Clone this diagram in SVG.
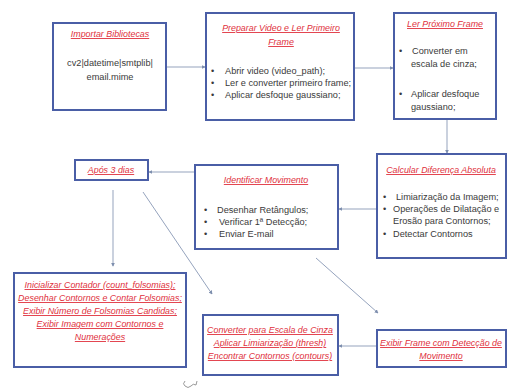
<svg xmlns="http://www.w3.org/2000/svg" width="517" height="392" viewBox="0 0 517 392">
<defs>
<style>
.box{fill:#fff;stroke:#4a5ea6;stroke-width:2}
.t{font-family:"Liberation Sans",Arial,sans-serif;font-size:8.9px;fill:#e0303c;font-style:italic;text-decoration:underline}
.b{font-family:"Liberation Sans",Arial,sans-serif;font-size:9.2px;fill:#3a3a3a}
.c{text-anchor:middle}
.ln{stroke:#95a3bd;stroke-width:1;fill:none;marker-end:url(#ah)}
</style>
<marker id="ah" viewBox="0 0 6 6" refX="5" refY="3" markerWidth="4" markerHeight="4" orient="auto">
<path d="M0,0 L6,3 L0,6 z" fill="#7e8fae"/>
</marker>
</defs>
<rect width="517" height="392" fill="#fff"/>
<g id="connectors">
<line class="ln" x1="166" y1="67" x2="205" y2="67"/>
<line class="ln" x1="354" y1="68" x2="393" y2="68"/>
<line class="ln" x1="447" y1="119" x2="447" y2="153"/>
<line class="ln" x1="377" y1="209" x2="339" y2="209"/>
<line class="ln" x1="195" y1="172" x2="149" y2="172"/>
<line class="ln" x1="113" y1="190" x2="113" y2="266"/>
<line class="ln" x1="143" y1="192" x2="212" y2="294"/>
<line class="ln" x1="316" y1="258" x2="378" y2="313"/>
<line class="ln" x1="377" y1="346" x2="339" y2="346"/>
</g>
<g id="n1">
<rect class="box" x="53" y="23" width="113" height="87"/>
<text class="t c" x="110" y="37">Importar Bibliotecas</text>
<text class="b c" x="110" y="66">cv2|datetime|smtplib|</text>
<text class="b c" x="110" y="80">email.mime</text>
</g>
<g id="n2">
<rect class="box" x="206" y="13" width="148" height="107"/>
<text class="t c" x="281" y="31">Preparar Video e Ler Primeiro</text>
<text class="t c" x="281" y="45">Frame</text>
<text class="b" x="211" y="74">•</text><text class="b" x="225" y="74">Abrir video (video_path);</text>
<text class="b" x="211" y="86">•</text><text class="b" x="225" y="86">Ler e converter primeiro frame;</text>
<text class="b" x="211" y="98">•</text><text class="b" x="225" y="98">Aplicar desfoque gaussiano;</text>
</g>
<g id="n3">
<rect class="box" x="394" y="13" width="102" height="106"/>
<text class="t c" x="445" y="27">Ler Próximo Frame</text>
<text class="b" x="399" y="54">•</text><text class="b" x="412" y="54">Converter em</text>
<text class="b" x="411" y="67">escala de cinza;</text>
<text class="b" x="399" y="97">•</text><text class="b" x="411" y="97">Aplicar desfoque</text>
<text class="b" x="411" y="110">gaussiano;</text>
</g>
<g id="n4">
<rect class="box" x="377" y="154" width="129" height="104"/>
<text class="t c" x="441" y="173">Calcular Diferença Absoluta</text>
<text class="b" x="383" y="200">•</text><text class="b" x="396" y="200">Limiarização da Imagem;</text>
<text class="b" x="383" y="212">•</text><text class="b" x="393" y="212">Operações de Dilatação e</text>
<text class="b" x="393" y="224">Erosão para Contornos;</text>
<text class="b" x="383" y="237">•</text><text class="b" x="393" y="237">Detectar Contornos</text>
</g>
<g id="n5">
<rect class="box" x="195" y="165" width="143" height="84"/>
<text class="t c" x="266" y="183">Identificar Movimento</text>
<text class="b" x="204" y="213">•</text><text class="b" x="217" y="213">Desenhar Retângulos;</text>
<text class="b" x="204" y="225">•</text><text class="b" x="219" y="225">Verificar 1ª Detecção;</text>
<text class="b" x="204" y="237">•</text><text class="b" x="219" y="237">Enviar E-mail</text>
</g>
<g id="n6">
<rect class="box" x="75" y="160" width="73" height="20"/>
<text class="t c" x="111" y="173">Após 3 dias</text>
</g>
<g id="n7">
<rect class="box" x="14" y="273" width="172" height="94"/>
<text class="t c" x="100" y="288">Inicializar Contador (count_folsomias);</text>
<text class="t c" x="100" y="301">Desenhar Contornos e Contar Folsomias;</text>
<text class="t c" x="100" y="314">Exibir Número de  Folsomias Candidas;</text>
<text class="t c" x="100" y="327">Exibir Imagem com Contornos e</text>
<text class="t c" x="100" y="340">Numerações</text>
</g>
<g id="n8">
<rect class="box" x="203" y="315" width="135" height="60"/>
<text class="t c" x="270" y="333">Converter para Escala de Cinza</text>
<text class="t c" x="270" y="346">Aplicar Limiarização (thresh)</text>
<text class="t c" x="270" y="359">Encontrar Contornos (contours)</text>
</g>
<g id="n9">
<rect class="box" x="377" y="330" width="129" height="37"/>
<text class="t c" x="441" y="346">Exibir Frame com Detecção de</text>
<text class="t c" x="441" y="359">Movimento</text>
</g>
<path d="M185,381 q-3,3 0,5 q3,3 6,0 q2,-3 5,-1 M196,385 l1,-4" fill="none" stroke="#999" stroke-width="1"/>
</svg>
